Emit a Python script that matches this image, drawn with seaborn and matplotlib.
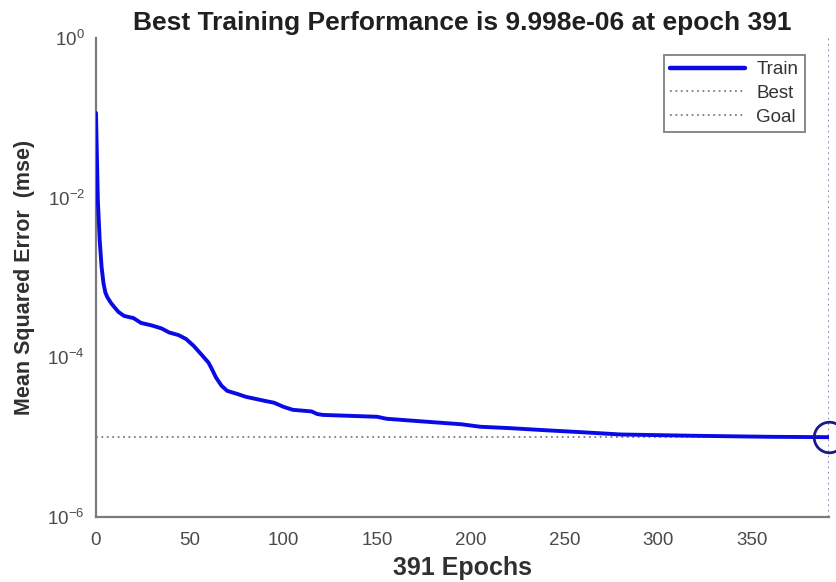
import numpy as np
import pandas as pd
import matplotlib
matplotlib.use("Agg")
import matplotlib.pyplot as plt
import seaborn as sns
from matplotlib.lines import Line2D

# Training record (epoch, mean squared error)
epochs = [0, 1, 2, 3, 4, 5, 6, 8, 10, 12, 15, 20, 24, 30, 35, 39, 44, 48, 52, 56,
          60, 62, 64, 67, 70, 75, 80, 90, 95, 100, 105, 115, 118, 121, 150, 155,
          170, 195, 205, 220, 240, 260, 280, 320, 360, 391]
mse = [0.115, 0.0093, 0.0029, 0.00135, 8.5e-4, 6.5e-4, 5.7e-4, 4.8e-4, 4.2e-4,
       3.7e-4, 3.3e-4, 3.1e-4, 2.7e-4, 2.5e-4, 2.3e-4, 2.05e-4, 1.9e-4, 1.7e-4,
       1.4e-4, 1.1e-4, 8.6e-5, 7.0e-5, 5.6e-5, 4.4e-5, 3.8e-5, 3.5e-5, 3.2e-5,
       2.85e-5, 2.7e-5, 2.4e-5, 2.2e-5, 2.1e-5, 1.95e-5, 1.9e-5, 1.8e-5, 1.7e-5,
       1.6e-5, 1.45e-5, 1.35e-5, 1.3e-5, 1.22e-5, 1.15e-5, 1.08e-5, 1.04e-5,
       1.01e-5, 9.998e-6]

best_epoch = 391
best_perf = 9.998e-6
goal = 1e-5

x_ticks = [0, 50, 100, 150, 200, 250, 300, 350]
y_exponents = [0, -1, -2, -3, -4, -5, -6]

title_text = "Best Training Performance is 9.998e-06 at epoch 391"
x_label = "391 Epochs"
y_label = "Mean Squared Error  (mse)"
legend_labels = ["Train", "Best", "Goal"]

df = pd.DataFrame({"epoch": epochs, "mse": mse})

sns.set_style("white")
plt.rcParams["font.family"] = ["Liberation Sans", "DejaVu Sans"]
plt.rcParams["mathtext.fontset"] = "custom"
plt.rcParams["mathtext.rm"] = "Liberation Sans"
plt.rcParams["mathtext.it"] = "Liberation Sans"

fig = plt.figure(figsize=(8.36, 5.82), dpi=100)
ax = fig.add_axes([0.1148, 0.1117, 0.8768, 0.823])

train_color = "#0a0ae6"
ref_color = "#7c7c90"
axis_color = "#7a7a7a"
text_color = "#4a4a4a"
dots = (0, (1, 2.0))

sns.lineplot(data=df, x="epoch", y="mse", ax=ax, color=train_color,
             linewidth=2.8, zorder=3)

ax.set_yscale("log")
ax.set_xlim(0, best_epoch)
ax.set_ylim(1e-6, 1e0)

# goal and best reference lines
ax.axhline(goal, color=ref_color, linestyle=dots, linewidth=1.3, zorder=2)
ax.axvline(best_epoch, color="#8080a8", linestyle=dots, linewidth=1.3, zorder=2)
ax.plot([best_epoch], [best_perf], marker="o", markersize=22, markerfacecolor="none",
        markeredgecolor="#1a1a8c", markeredgewidth=2.0, clip_on=False, zorder=4)

ax.set_xticks(x_ticks)
ax.set_xticklabels([str(t) for t in x_ticks])
ax.set_yticks([10.0 ** e for e in y_exponents])
ax.set_yticklabels([f"$\\mathregular{{10^{{{e}}}}}$" if e % 2 == 0 else ""
                    for e in y_exponents])
ax.yaxis.set_minor_locator(matplotlib.ticker.NullLocator())

for side in ("top", "right"):
    ax.spines[side].set_visible(False)
for side in ("left", "bottom"):
    ax.spines[side].set_color(axis_color)
    ax.spines[side].set_linewidth(1.6)

ax.tick_params(axis="both", direction="in", length=5, width=1.2, color=axis_color,
               labelsize=13.5, labelcolor=text_color)
ax.tick_params(axis="x", pad=11)
ax.tick_params(axis="y", pad=8)

ax.set_title(title_text, fontsize=19, fontweight="bold", color="#202020", pad=6)
ax.set_xlabel(x_label, fontsize=18, fontweight="bold", color="#303030", labelpad=5)
ax.set_ylabel(y_label, fontsize=15.5, fontweight="bold", color="#303030", labelpad=9)

handles = [
    Line2D([], [], color=train_color, linewidth=3.2),
    Line2D([], [], color=ref_color, linestyle=dots, linewidth=1.3),
    Line2D([], [], color=ref_color, linestyle=dots, linewidth=1.3),
]
leg = ax.legend(handles, legend_labels, loc="upper right", bbox_to_anchor=(0.98, 0.985),
                fontsize=13.5, frameon=True, fancybox=False, handlelength=4.0,
                borderpad=0.35, labelspacing=0.35, handletextpad=0.6)
leg.get_frame().set_edgecolor("#6a6a6a")
leg.get_frame().set_linewidth(1.4)
for t in leg.get_texts():
    t.set_color("#333333")

fig.savefig("out.png", dpi=100, facecolor="white")
